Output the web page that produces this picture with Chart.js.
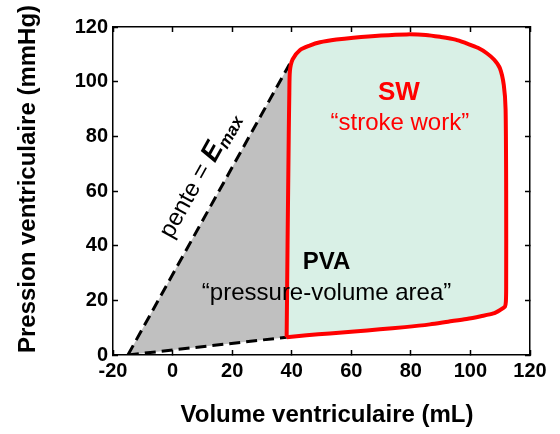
<!DOCTYPE html>
<html>
<head>
<meta charset="utf-8">
<script src="https://cdn.jsdelivr.net/npm/chart.js@4.4.1/dist/chart.umd.min.js"></script>
<style>
body { margin: 0; background: #fff; }
</style>
</head>
<body>
<canvas id="chart" width="560" height="434"></canvas>
<script>
// pressure-volume loop, from the bottom-left corner going up, across the top, down and back
var loopVol = [38.3, 38.6, 39.0, 39.2, 39.4, 40.3, 42.8, 46.0, 49.5, 55.0, 60.7, 70.0, 78.6, 85.0, 89.8, 95.0, 98.7, 102.5, 105.5, 108.0, 109.9, 111.2, 111.8, 112.0, 112.0, 111.9, 111.6, 110.0, 107.7, 103.5, 98.7, 92.5, 86.4, 78.0, 69.6, 61.0, 52.8, 45.0, 38.3];
var loopPres = [6.5, 40, 80, 96, 104, 108.2, 111.6, 113.2, 114.4, 115.4, 116.1, 116.9, 117.3, 117.1, 116.4, 115.4, 114.0, 112.4, 110.4, 108.0, 104.9, 98.8, 90, 60, 25, 19.5, 17.7, 16.5, 15.2, 14.2, 13.2, 12.2, 11.2, 10.2, 9.4, 8.6, 7.9, 7.2, 6.5];
var leftSide = 4; // points of the loop that close the grey area

// end-systolic line (slope = Emax) and end-diastolic line
var espvrVol = [-15, 39.3];
var espvrPres = [0, 106.5];
var edpvrVol = [-15, 38.3];
var edpvrPres = [0, 6.5];

var xTicks = [-20, 0, 20, 40, 60, 80, 100, 120];
var yTicks = [0, 20, 40, 60, 80, 100, 120];

var xTitle = 'Volume ventriculaire (mL)';
var yTitle = 'Pression ventriculaire (mmHg)';
var swLabel = 'SW';
var swText = '\u201cstroke work\u201d';
var pvaLabel = 'PVA';
var pvaText = '\u201cpressure-volume area\u201d';
var slopeText = 'pente = ';
var slopeE = 'E';
var slopeSub = 'max';

var FONT = "'Liberation Sans', Arial, sans-serif";

function toPoints(xs, ys) {
	return xs.map(function (x, i) { return { x: x, y: ys[i] }; });
}

// grey area: Emax line, then down the left side of the loop, back along the diastolic line
var greyVol = espvrVol.concat(loopVol.slice(0, leftSide).reverse(), [edpvrVol[0]]);
var greyPres = espvrPres.concat(loopPres.slice(0, leftSide).reverse(), [edpvrPres[0]]);

var labelsPlugin = {
	id: 'labels',
	afterDatasetsDraw: function (chart) {
		var ctx = chart.ctx;
		var sx = chart.scales.x, sy = chart.scales.y;
		ctx.save();
		ctx.textAlign = 'center';
		ctx.textBaseline = 'alphabetic';

		ctx.fillStyle = '#ff0000';
		ctx.font = 'bold 26px ' + FONT;
		ctx.fillText(swLabel, sx.getPixelForValue(76), sy.getPixelForValue(93.3));
		ctx.font = '24px ' + FONT;
		ctx.fillText(swText, sx.getPixelForValue(76.3), sy.getPixelForValue(82.3));

		ctx.fillStyle = '#000';
		ctx.font = 'bold 24px ' + FONT;
		ctx.fillText(pvaLabel, sx.getPixelForValue(51.7), sy.getPixelForValue(31.4));
		ctx.font = '24px ' + FONT;
		ctx.fillText(pvaText, sx.getPixelForValue(51.7), sy.getPixelForValue(20.1));

		// "pente = Emax" written along the dashed line
		var x1 = sx.getPixelForValue(espvrVol[0]), y1 = sy.getPixelForValue(espvrPres[0]);
		var x2 = sx.getPixelForValue(espvrVol[1]), y2 = sy.getPixelForValue(espvrPres[1]);
		var angle = Math.atan2(y2 - y1, x2 - x1);
		ctx.translate(sx.getPixelForValue(9.8), sy.getPixelForValue(67));
		ctx.rotate(angle);
		ctx.textAlign = 'left';
		ctx.textBaseline = 'middle';
		ctx.font = '24px ' + FONT;
		var wEq = ctx.measureText('=').width;
		var wHead = ctx.measureText('pente ').width;
		var pos = -(wHead + wEq / 2);
		ctx.fillText(slopeText, pos, 0);
		pos += ctx.measureText(slopeText).width;
		ctx.font = 'italic bold 27px ' + FONT;
		ctx.fillText(slopeE, pos, 0);
		pos += ctx.measureText(slopeE).width;
		ctx.font = 'italic bold 17px ' + FONT;
		ctx.fillText(slopeSub, pos, 7);
		ctx.restore();
	},
	afterDraw: function (chart) {
		var ctx = chart.ctx, area = chart.chartArea;
		ctx.save();
		ctx.fillStyle = '#000';
		ctx.font = 'bold 24px ' + FONT;
		ctx.textAlign = 'center';
		ctx.textBaseline = 'alphabetic';
		ctx.fillText(xTitle, area.left + 214, area.bottom + 67);
		ctx.translate(area.left - 78, area.top + 152);
		ctx.rotate(-Math.PI / 2);
		ctx.fillText(yTitle, 0, 0);
		ctx.restore();
	}
};

function setTicks(list) {
	return function (scale) {
		scale.ticks = list.map(function (v) { return { value: v }; });
	};
}

var tickFont = { family: FONT, size: 20, weight: 'bold' };
var border = { color: '#000', width: 1.5 };

var ctx = document.getElementById('chart').getContext('2d');
var chart = new Chart(ctx, {
	type: 'scatter',
	data: {
		datasets: [{
			data: toPoints(greyVol, greyPres),
			showLine: true,
			fill: 'shape',
			backgroundColor: '#c0c0c0',
			borderWidth: 0,
			pointRadius: 0,
			order: 4
		}, {
			data: toPoints(espvrVol, espvrPres),
			showLine: true,
			borderColor: '#000',
			borderWidth: 3,
			borderDash: [11, 6],
			pointRadius: 0,
			order: 3
		}, {
			data: toPoints(edpvrVol, edpvrPres),
			showLine: true,
			borderColor: '#000',
			borderWidth: 3,
			borderDash: [11, 6],
			pointRadius: 0,
			order: 3
		}, {
			data: toPoints(loopVol, loopPres),
			showLine: true,
			fill: 'shape',
			backgroundColor: '#d9f0e6',
			borderColor: '#ff0000',
			borderWidth: 4,
			tension: 0.25,
			pointRadius: 0,
			order: 1
		}]
	},
	options: {
		responsive: false,
		animation: false,
		events: [],
		layout: { padding: { top: 27, right: 30, left: 0, bottom: 0 } },
		plugins: { legend: { display: false }, tooltip: { enabled: false } },
		scales: {
			x: {
				type: 'linear', position: 'bottom',
				min: xTicks[0], max: xTicks[xTicks.length - 1],
				afterBuildTicks: setTicks(xTicks),
				afterFit: function (s) { s.height = 79; },
				grid: { drawOnChartArea: false, tickLength: -5, color: '#000', tickWidth: 1.5 },
				border: border,
				ticks: { font: tickFont, color: '#000', padding: 9, maxRotation: 0 }
			},
			y: {
				type: 'linear', position: 'left',
				min: yTicks[0], max: yTicks[yTicks.length - 1],
				afterBuildTicks: setTicks(yTicks),
				afterFit: function (s) { s.width = 113; },
				grid: { drawOnChartArea: false, tickLength: -5, color: '#000', tickWidth: 1.5 },
				border: border,
				ticks: { font: tickFont, color: '#000', padding: 10 }
			},
			x2: {
				type: 'linear', position: 'top',
				min: xTicks[0], max: xTicks[xTicks.length - 1],
				afterBuildTicks: setTicks(xTicks),
				afterFit: function (s) { s.height = 0; },
				grid: { drawOnChartArea: false, tickLength: -5, color: '#000', tickWidth: 1.5 },
				border: border,
				ticks: { display: false }
			},
			y2: {
				type: 'linear', position: 'right',
				min: yTicks[0], max: yTicks[yTicks.length - 1],
				afterBuildTicks: setTicks(yTicks),
				afterFit: function (s) { s.width = 0; },
				grid: { drawOnChartArea: false, tickLength: -5, color: '#000', tickWidth: 1.5 },
				border: border,
				ticks: { display: false }
			}
		}
	},
	plugins: [labelsPlugin]
});
</script>
</body>
</html>
